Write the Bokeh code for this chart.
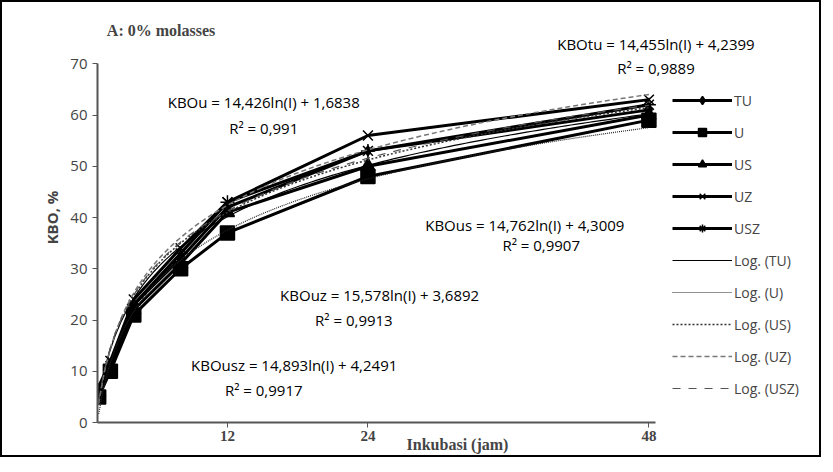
import numpy as np
from bokeh.plotting import figure
from bokeh.models import Range1d, FixedTicker, Legend, LegendItem, Label
from bokeh.core.properties import value
from bokeh.embed import file_html
from bokeh.resources import INLINE

jam = [1, 2, 4, 8, 12, 24, 48]
tu = [6, 11, 23, 32, 42, 53, 61]
u = [5, 10, 21, 30, 37, 48, 59]
us = [6, 11, 22, 31, 41, 50, 60]
uz = [7, 12, 24, 34, 43, 56, 63]
usz = [6, 11, 23, 33, 43, 53, 62]

# log trend coefficients (a*ln(x)+b)
tren = {"TU": (14.455, 4.2399), "U": (14.426, 1.6838), "US": (14.762, 4.3009),
        "UZ": (15.578, 3.6892), "USZ": (14.893, 4.2491)}

eq_text = ["KBOtu = 14,455ln(I) + 4,2399", "R² = 0,9889",
           "KBOu = 14,426ln(I) + 1,6838", "R² = 0,991",
           "KBOus = 14,762ln(I) + 4,3009", "R² = 0,9907",
           "KBOuz = 15,578ln(I) + 3,6892", "R² = 0,9913",
           "KBOusz = 14,893ln(I) + 4,2491", "R² = 0,9917"]
eq_x = [48.6, 48.6, 15.1, 15.1, 37.4, 38.8, 25.0, 22.8, 17.7, 15.1]
eq_y = [73.8, 69.1, 62.6, 57.4, 38.6, 34.6, 24.9, 20.0, 11.2, 6.3]

p = figure(frame_width=720, frame_height=410, output_backend="svg", toolbar_location=None,
           x_range=Range1d(0.9, 62.4), y_range=Range1d(0, 80),
           min_border_left=95, min_border_top=10, min_border_bottom=0,
           min_border_right=2)
p.styles = {"border": "2px solid black"}
p.outline_line_color = None
p.grid.visible = False

font = "Open Sans"
rend = []
for ys, mk in [(tu, "diamond"), (u, "square"), (us, "triangle"), (uz, "x"), (usz, "asterisk")]:
    l = p.line(jam, ys, line_color="black", line_width=3)
    m = p.scatter(jam, ys, marker=mk, size=14 if mk != "diamond" else 10,
                  fill_color="black", line_color="black", line_width=1.5)
    rend.append([l, m])

xx = np.linspace(1, 48, 100)
styles = [("black", "solid", 1.2), ("#222222", "1 1", 1.2), ("#333333", "2 2", 1.5),
          ("#777777", "5 3", 1.5), ("#555555", "8 8", 1.2)]
trend_r = []
for (k, (a, b)), (c, d, w) in zip(tren.items(), styles):
    trend_r.append(p.line(xx, a * np.log(xx) + b, line_color=c, line_dash=d, line_width=w))

p.text(eq_x, eq_y, text=eq_text, text_align="center", text_baseline="middle",
       text_font=value(font), text_font_size="15px", text_color="black")

names = ["TU", "U", "US", "UZ", "USZ"]
items = [LegendItem(label=n, renderers=r) for n, r in zip(names, rend)]
items += [LegendItem(label="Log. (%s)" % n, renderers=[r]) for n, r in zip(names, trend_r)]
leg = Legend(items=items, label_text_font=font, label_text_font_size="14px",
             glyph_width=60, glyph_height=20, spacing=12, padding=0, border_line_color=None,
             background_fill_alpha=0, label_standoff=2, location=(575, 24))
p.add_layout(leg)

p.xaxis.ticker = FixedTicker(ticks=[12, 24, 48])
p.xaxis.bounds = (0.9, 48.6)
p.xaxis.major_label_text_font = "Liberation Serif"
p.xaxis.major_label_text_font_style = "bold"
p.xaxis.major_label_text_font_size = "15px"
p.xaxis.major_label_standoff = 3
p.xaxis.axis_label = "Inkubasi (jam)"
p.xaxis.axis_label_text_font = "Liberation Serif"
p.xaxis.axis_label_text_font_style = "bold"
p.xaxis.axis_label_text_font_size = "16px"
p.xaxis.axis_label_standoff = -8
p.yaxis.ticker = FixedTicker(ticks=list(range(0, 71, 10)))
p.yaxis.bounds = (0, 70)
p.yaxis.major_label_text_font = font
p.yaxis.major_label_text_font_size = "15px"
p.yaxis.axis_label = "KBO, %"
p.yaxis.axis_label_text_font = font
p.yaxis.axis_label_text_font_style = "bold"
p.yaxis.axis_label_text_font_size = "15px"
for ax in (p.xaxis, p.yaxis):
    ax.axis_line_color = "#555555"
    ax.axis_line_width = 2
    ax.major_tick_line_color = "#555555"
    ax.minor_tick_line_color = None
    ax.major_tick_in = 0
    ax.major_tick_out = 5

p.add_layout(Label(x=1.7, y=76.5, text="A: 0% molasses", text_baseline="middle",
                   text_font="Liberation Serif", text_font_style="bold", text_font_size="16px"))

open("out.html", "w").write(file_html(p, INLINE))
